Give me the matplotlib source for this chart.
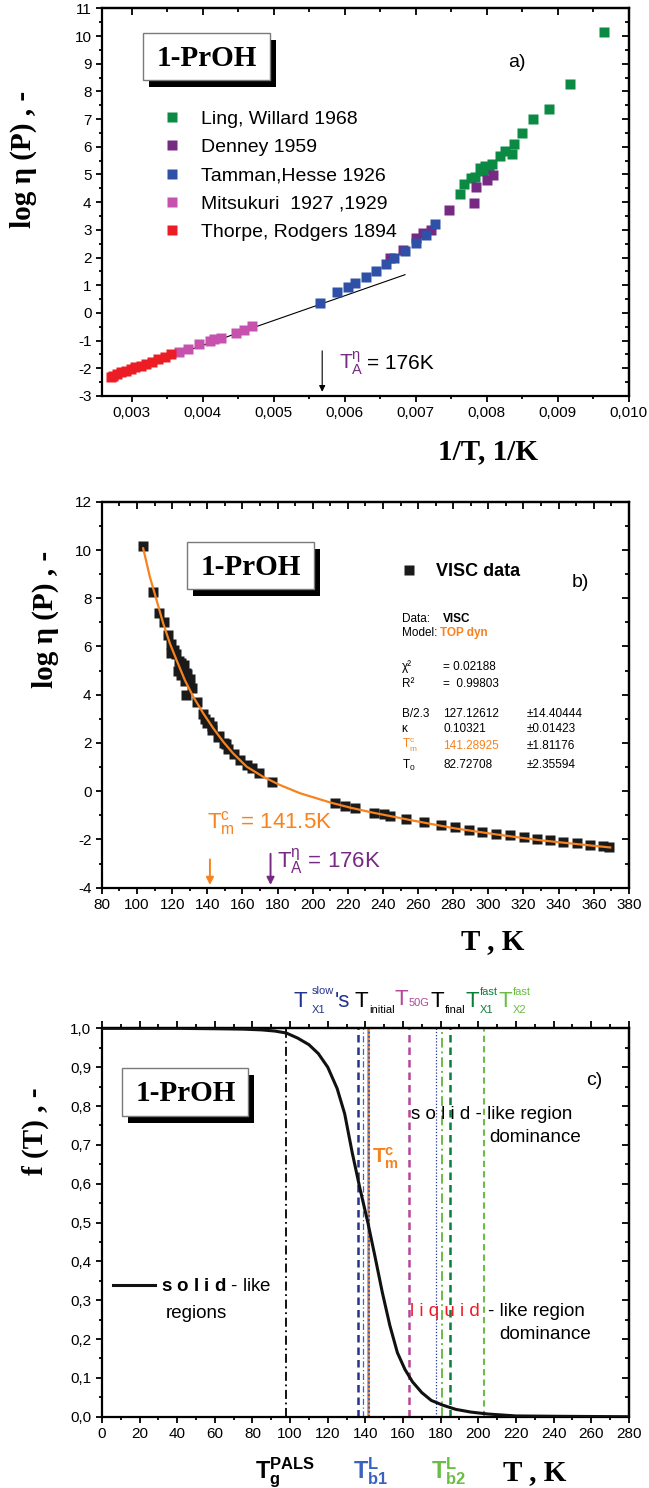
import matplotlib
matplotlib.use("Agg")
import numpy as np
import matplotlib.pyplot as plt
from matplotlib.patches import Rectangle
from matplotlib.ticker import MultipleLocator, FuncFormatter, NullFormatter
from matplotlib.transforms import offset_copy

# ---- Fonts ----
plt.rcParams["font.family"] = ["Liberation Sans", "DejaVu Sans"]
plt.rcParams["mathtext.fontset"] = "custom"
plt.rcParams["mathtext.rm"] = "Liberation Sans"
plt.rcParams["mathtext.it"] = "Liberation Sans:italic"
plt.rcParams["mathtext.bf"] = "Liberation Sans:bold"
plt.rcParams["axes.unicode_minus"] = False
SERIF = ["Liberation Serif", "DejaVu Serif"]

# ---- Viscosity data of 1-propanol: T [K], log eta [P] ----
ling_T = [131.2, 130.2, 128.5, 127.6, 126.6, 125.8, 125.3, 124.5, 123.8,
          122.2, 121.2, 119.6, 119.2, 117.7, 115.6, 112.7, 109.1, 103.6]
ling_eta = [4.28, 4.64, 4.88, 4.90, 5.25, 5.13, 5.31, 5.20, 5.38,
            5.67, 5.86, 5.74, 6.10, 6.49, 7.02, 7.37, 8.27, 10.16]

denney_T = [150.7, 146.7, 142.8, 140.7, 138.7, 133.9, 128.0, 127.4, 125.0, 123.6]
denney_eta = [1.97, 2.27, 2.69, 2.87, 3.00, 3.72, 3.98, 4.56, 4.80, 4.98]

tamman_T = [176.8, 169.6, 165.3, 162.7, 158.7, 155.3, 152.0, 149.5, 146.0, 142.8, 140.0, 137.6]
tamman_eta = [0.37, 0.76, 0.95, 1.09, 1.29, 1.53, 1.77, 2.00, 2.25, 2.54, 2.81, 3.20]

mitsukuri_T = [273.2, 263.2, 253.2, 243.9, 240.4, 234.7, 224.0, 218.5, 212.8]
mitsukuri_eta = [-1.40, -1.29, -1.14, -1.02, -0.96, -0.89, -0.71, -0.62, -0.48]

thorpe_T = [281.0, 288.7, 296.3, 304.5, 312.5, 320.1, 327.6, 335.1, 342.7,
            350.5, 358.0, 365.0, 368.9]
thorpe_eta = [-1.49, -1.59, -1.67, -1.76, -1.83, -1.90, -1.97, -2.03, -2.09,
              -2.15, -2.21, -2.27, -2.33]

# high-temperature Arrhenius line (1/T, log eta)
arrh_x = [0.002693, 0.006848]
arrh_y = [-2.34, 1.38]

T_A = 176.0        # Arrhenius onset
T_M_C = 141.5      # crossover from the fit, rounded

# TOP dyn model curve (T, log eta)
fit_T = [103.5, 107.3, 111.1, 114.9, 118.7, 122.5, 127.2, 132.0, 137.7, 143.4,
         149.1, 154.7, 162.4, 171.8, 181.3, 192.7, 210.2, 222.0, 233.8, 257.4,
         281.0, 304.5, 328.1, 351.7, 369.4]
fit_eta = [10.07, 8.89, 7.93, 6.96, 6.13, 5.44, 4.61, 3.92, 3.23, 2.61,
           2.05, 1.57, 1.02, 0.60, 0.26, -0.08, -0.47, -0.69, -0.88, -1.22,
           -1.54, -1.79, -2.02, -2.20, -2.33]

fit_names = ["B/2.3", "κ", r"$\mathregular{T^{c}_{m}}$", r"$\mathregular{T_{0}}$"]
fit_values = ["127.12612", "0.10321", "141.28925", "82.72708"]
fit_errors = ["±14.40444", "±0.01423", "±1.81176", "±2.35594"]
chi2 = "0.02188"
r2 = "0.99803"

# solid-like fraction f(T)
f_T = [0, 40, 60, 75, 85, 92, 98, 104, 110, 115, 120, 125, 129, 133, 137, 141.3,
       145, 149, 153, 157, 161, 165, 170, 175, 181, 188, 196, 205, 220, 245, 280]
f_val = [1.0, 1.0, 0.999, 0.998, 0.996, 0.993, 0.988, 0.975, 0.958, 0.935, 0.90,
         0.845, 0.78, 0.68, 0.59, 0.50, 0.415, 0.32, 0.235, 0.165, 0.122, 0.09,
         0.062, 0.042, 0.03, 0.019, 0.012, 0.007, 0.002, 0.001, 0.0]

# characteristic temperatures [K]
T_g_pals = 98.0
T_x1_slow = 136.0
T_b1 = 138.6
T_m_c = 141.29
T_initial = 141.9
T_50G = 163.0
T_final = 177.3
T_b2 = 180.5
T_x1_fast = 184.7
T_x2_fast = 203.0

# ---- Colours ----
GREEN = "#0b8a43"
PURPLE = "#772a84"
BLUE = "#2e50a6"
PINK = "#c652ae"
RED = "#ec1c24"
ORANGE = "#f7821e"
NAVY = "#23358f"
MAGENTA = "#b5469a"
DKGREEN = "#0a7f3a"
LTGREEN = "#6cbd45"
MIDBLUE = "#3a62c0"

comma3 = FuncFormatter(lambda v, p: f"{v:.3f}".replace(".", ","))
comma1 = FuncFormatter(lambda v, p: f"{v:.1f}".replace(".", ","))
intfmt = FuncFormatter(lambda v, p: f"{v:.0f}")


def frame(ax, xmaj, xmin, ymaj, ymin, xfmt, yfmt, top_dir="in"):
    for sp in ax.spines.values():
        sp.set_linewidth(1.6)
    ax.xaxis.set_major_locator(MultipleLocator(xmaj))
    ax.xaxis.set_minor_locator(MultipleLocator(xmin))
    ax.yaxis.set_major_locator(MultipleLocator(ymaj))
    ax.yaxis.set_minor_locator(MultipleLocator(ymin))
    ax.xaxis.set_major_formatter(xfmt)
    ax.yaxis.set_major_formatter(yfmt)
    ax.tick_params(which="both", direction="out", width=1.3, labelsize=11, pad=3)
    ax.tick_params(which="major", length=4.5)
    ax.tick_params(which="minor", length=2.5)
    top = ax.secondary_xaxis("top")
    top.xaxis.set_major_locator(MultipleLocator(xmaj))
    top.xaxis.set_minor_locator(MultipleLocator(xmin))
    top.xaxis.set_major_formatter(NullFormatter())
    top.tick_params(which="both", direction=top_dir, width=1.3)
    top.tick_params(which="major", length=5)
    top.tick_params(which="minor", length=3)
    top.spines["top"].set_linewidth(1.6)
    right = ax.secondary_yaxis("right")
    right.yaxis.set_major_locator(MultipleLocator(ymaj))
    right.yaxis.set_minor_locator(MultipleLocator(ymin))
    right.yaxis.set_major_formatter(NullFormatter())
    right.tick_params(which="both", direction="in", width=1.3)
    right.tick_params(which="major", length=5)
    right.tick_params(which="minor", length=3)
    right.spines["right"].set_linewidth(1.6)


def name_box(ax, x0, y0, x1, y1):
    shadow = offset_copy(ax.transAxes, fig=ax.figure, x=6, y=-7, units="dots")
    ax.add_patch(Rectangle((x0, y0), x1 - x0, y1 - y0, transform=shadow,
                           facecolor="black", edgecolor="none", zorder=6))
    ax.add_patch(Rectangle((x0, y0), x1 - x0, y1 - y0, transform=ax.transAxes,
                           facecolor="white", edgecolor="#7a7a7a", lw=1, zorder=7))
    ax.text((x0 + x1) / 2, (y0 + y1) / 2 - 0.005, "1-PrOH", transform=ax.transAxes,
            ha="center", va="center", family=SERIF, weight="bold", fontsize=21, zorder=8)


def ylabel(ax, text, x, y):
    ax.text(x, y, text, transform=ax.transAxes, rotation=90, ha="center", va="center",
            family=SERIF, weight="bold", fontsize=21)


def xlabel(ax, text, x, y):
    ax.text(x, y, text, transform=ax.transAxes, ha="center", va="center",
            family=SERIF, weight="bold", fontsize=21)


fig = plt.figure(figsize=(6.49, 14.88), dpi=100)

# ---- a) Arrhenius plot ----
ax = fig.add_axes([0.157, 0.7339, 0.812, 0.2605])
series = [(ling_T, ling_eta, GREEN, "Ling, Willard 1968"),
          (denney_T, denney_eta, PURPLE, "Denney 1959"),
          (tamman_T, tamman_eta, BLUE, "Tamman,Hesse 1926"),
          (mitsukuri_T, mitsukuri_eta, PINK, "Mitsukuri  1927 ,1929"),
          (thorpe_T, thorpe_eta, RED, "Thorpe, Rodgers 1894")]
for T, eta, col, lab in series:
    ax.plot(1.0 / np.array(T), eta, "s", color=col, ms=6.5, mec="none", label=lab, zorder=3)
ax.plot(arrh_x, arrh_y, color="black", lw=0.8, zorder=2)
ax.annotate("", xy=(1.0 / T_A, -2.95), xytext=(1.0 / T_A, -1.27),
            arrowprops=dict(arrowstyle="-|>", color="black", lw=0.8, mutation_scale=9))
ax.text(0.45, 0.085, r"$\mathregular{T^{\eta}_{A}}$", transform=ax.transAxes,
        color=PURPLE, fontsize=15, va="center")
ax.text(0.503, 0.085, f"= {T_A:.0f}K", transform=ax.transAxes, fontsize=15, va="center")
ax.set_xlim(0.00258, 0.010)
ax.set_ylim(-3, 11)
frame(ax, 0.001, 0.0005, 1, 0.5, comma3, intfmt)
ax.legend(loc="upper left", bbox_to_anchor=(0.114, 0.737), frameon=False, fontsize=14,
          handlelength=1.0, handletextpad=1.0, labelspacing=0.55, borderpad=0,
          borderaxespad=0, numpoints=1)
name_box(ax, 0.078, 0.815, 0.319, 0.936)
ax.text(0.770, 0.859, "a)", transform=ax.transAxes, fontsize=14, va="center")
ylabel(ax, "log η (P) , -", -0.150, 0.611)
xlabel(ax, "1/T, 1/K", 0.733, -0.144)

# ---- b) log eta vs T with TOP dyn fit ----
ax = fig.add_axes([0.157, 0.4034, 0.812, 0.2594])
all_T = ling_T + denney_T + tamman_T + mitsukuri_T + thorpe_T
all_eta = ling_eta + denney_eta + tamman_eta + mitsukuri_eta + thorpe_eta
pts, = ax.plot(all_T, all_eta, "s", color="#1a1a1a", ms=6.5, mec="none", zorder=3)
ax.plot(fit_T, fit_eta, color=ORANGE, lw=1.6, zorder=4)
ax.annotate("", xy=(T_M_C, -4), xytext=(T_M_C, -2.71),
            arrowprops=dict(arrowstyle="-|>", color=ORANGE, lw=1.4, mutation_scale=11))
ax.annotate("", xy=(T_A, -4), xytext=(T_A, -2.48),
            arrowprops=dict(arrowstyle="-|>", color=PURPLE, lw=1.4, mutation_scale=11))
ax.text(0.199, 0.1676, r"$\mathregular{T^{c}_{m}}$" + f" = {T_M_C}K", transform=ax.transAxes,
        color=ORANGE, fontsize=16, va="center")
ax.text(0.332, 0.0674, r"$\mathregular{T^{\eta}_{A}}$" + f" = {T_A:.0f}K", transform=ax.transAxes,
        color=PURPLE, fontsize=16, va="center")
ax.set_xlim(80, 380)
ax.set_ylim(-4, 12)
frame(ax, 20, 10, 2, 1, intfmt, intfmt)
ax.legend([pts], ["VISC data"], loc="upper left", bbox_to_anchor=(0.5655, 0.841),
          frameon=False, prop={"weight": "bold", "size": 13}, handlelength=1.0,
          handletextpad=1.0, borderpad=0, borderaxespad=0, numpoints=1)
name_box(ax, 0.162, 0.774, 0.403, 0.896)
ax.text(0.892, 0.792, "b)", transform=ax.transAxes, fontsize=14, va="center")

# fit report
tx0, tx1, tx2 = 0.5687, 0.6477, 0.806
kw = dict(transform=ax.transAxes, fontsize=8.5, va="center")
ax.text(tx0, 0.695, "Data:", **kw)
ax.text(tx1, 0.695, "VISC", weight="bold", **kw)
ax.text(tx0, 0.659, "Model:", **kw)
ax.text(0.641, 0.659, "TOP dyn", weight="bold", color=ORANGE, **kw)
ax.text(tx0, 0.573, "χ²", **kw)
ax.text(tx1, 0.573, "= " + chi2, **kw)
ax.text(tx0, 0.529, "R²", **kw)
ax.text(tx1, 0.529, "=  " + r2, **kw)
for name, val, err, yy in zip(fit_names, fit_values, fit_errors, [0.4495, 0.4106, 0.368, 0.318]):
    col = ORANGE if "T^{c}" in name else "black"
    ax.text(tx0, yy, name, color=col, **kw)
    ax.text(tx1, yy, val, color=col, **kw)
    ax.text(tx2, yy, err, **kw)
ylabel(ax, "log η (P) , -", -0.107, 0.696)
xlabel(ax, "T , K", 0.741, -0.14)

# ---- c) solid-like fraction ----
ax = fig.add_axes([0.157, 0.0479, 0.812, 0.261])
ax.axvline(T_g_pals, color="black", ls=(0, (5, 2, 1, 2)), lw=1.3)
ax.axvline(T_x1_slow, color=NAVY, ls=(0, (3, 2)), lw=1.8)
ax.axvline(T_b1, color=MIDBLUE, ls=(0, (5, 2, 1, 2)), lw=0.9)
ax.axvline(T_m_c, color=ORANGE, ls="-", lw=1.8)
ax.axvline(T_initial, color=MIDBLUE, ls=(0, (1, 1)), lw=1.5)
ax.axvline(T_50G, color=MAGENTA, ls=(0, (3, 2)), lw=1.8)
ax.axvline(T_final, color=NAVY, ls=(0, (1, 1.5)), lw=0.9)
ax.axvline(T_b2, color=LTGREEN, ls=(0, (5, 2, 1, 2)), lw=1.4)
ax.axvline(T_x1_fast, color=DKGREEN, ls=(0, (3, 2)), lw=1.8)
ax.axvline(T_x2_fast, color=LTGREEN, ls=(0, (3, 2)), lw=1.5)
curve, = ax.plot(f_T, f_val, color="#111111", lw=2.2, zorder=4)
ax.set_xlim(0, 280)
ax.set_ylim(0, 1.0)
frame(ax, 20, 10, 0.1, 0.05, intfmt, comma1, top_dir="out")
ax.legend([curve], [r"$\mathbf{s\ o\ l\ i\ d}$ - like"], loc="upper left",
          bbox_to_anchor=(0.0209, 0.357), frameon=False, fontsize=13.5,
          handlelength=2.25, handletextpad=0.33, borderpad=0, borderaxespad=0)
ax.text(0.1207, 0.2668, "regions", transform=ax.transAxes, fontsize=13.5, va="center")
name_box(ax, 0.039, 0.775, 0.278, 0.897)
ax.text(0.918, 0.867, "c)", transform=ax.transAxes, fontsize=14, va="center")

ax.text(164.2, 0.777, "s o l i d - like region", fontsize=13.5, va="center")
ax.text(206.0, 0.718, "dominance", fontsize=13.5, va="center")
ax.text(163.5, 0.27, "l i q u i d", color=RED, fontsize=13.5, va="center")
ax.text(205.3, 0.27, "- like region", fontsize=13.5, va="center")
ax.text(211.2, 0.212, "dominance", fontsize=13.5, va="center")
ax.text(143.7, 0.652, r"$\mathbf{T^{c}_{m}}$", color=ORANGE, fontsize=15, va="baseline")

# temperature symbols above the frame, built from large T plus small indices
xt = ax.get_xaxis_transform()
top_marks = [
    (101.7, 1.0556, "T", 16, NAVY), (111.5, 1.0875, "slow", 8, NAVY),
    (111.5, 1.0386, "X1", 8, NAVY), (123.8, 1.0556, "'s", 16, NAVY),
    (134.4, 1.0556, "T", 16, "black"), (141.9, 1.0386, "initial", 8, "black"),
    (155.7, 1.0602, "T", 16, MAGENTA), (163.1, 1.058, "50G", 8, MAGENTA),
    (174.8, 1.0556, "T", 16, "black"), (182.3, 1.0386, "final", 8, "black"),
    (193.4, 1.0556, "T", 16, DKGREEN), (200.9, 1.0857, "fast", 8, DKGREEN),
    (200.9, 1.0386, "X1", 8, DKGREEN),
    (210.9, 1.0556, "T", 16, LTGREEN), (218.4, 1.0857, "fast", 8, LTGREEN),
    (218.4, 1.0386, "X2", 8, LTGREEN),
]
for xpos, ypos, s, size, col in top_marks:
    ax.text(xpos, ypos, s, transform=xt, color=col, fontsize=size, va="baseline",
            ha="left", clip_on=False)

bottom_labels = [(81.3, r"$\mathbf{T^{PALS}_{g}}$", "black"),
                 (133.5, r"$\mathbf{T^{L}_{b1}}$", MIDBLUE),
                 (175.0, r"$\mathbf{T^{L}_{b2}}$", LTGREEN)]
for xpos, lab, col in bottom_labels:
    ax.text(xpos, -0.158, lab, transform=xt, color=col, fontsize=17, va="baseline",
            ha="left", clip_on=False)
ax.text(229.7, -0.163, "T , K", transform=xt, ha="center", va="baseline",
        family=SERIF, weight="bold", fontsize=21)
ylabel(ax, "f (T) , -", -0.126, 0.734)

fig.savefig("out.png", dpi=100)
